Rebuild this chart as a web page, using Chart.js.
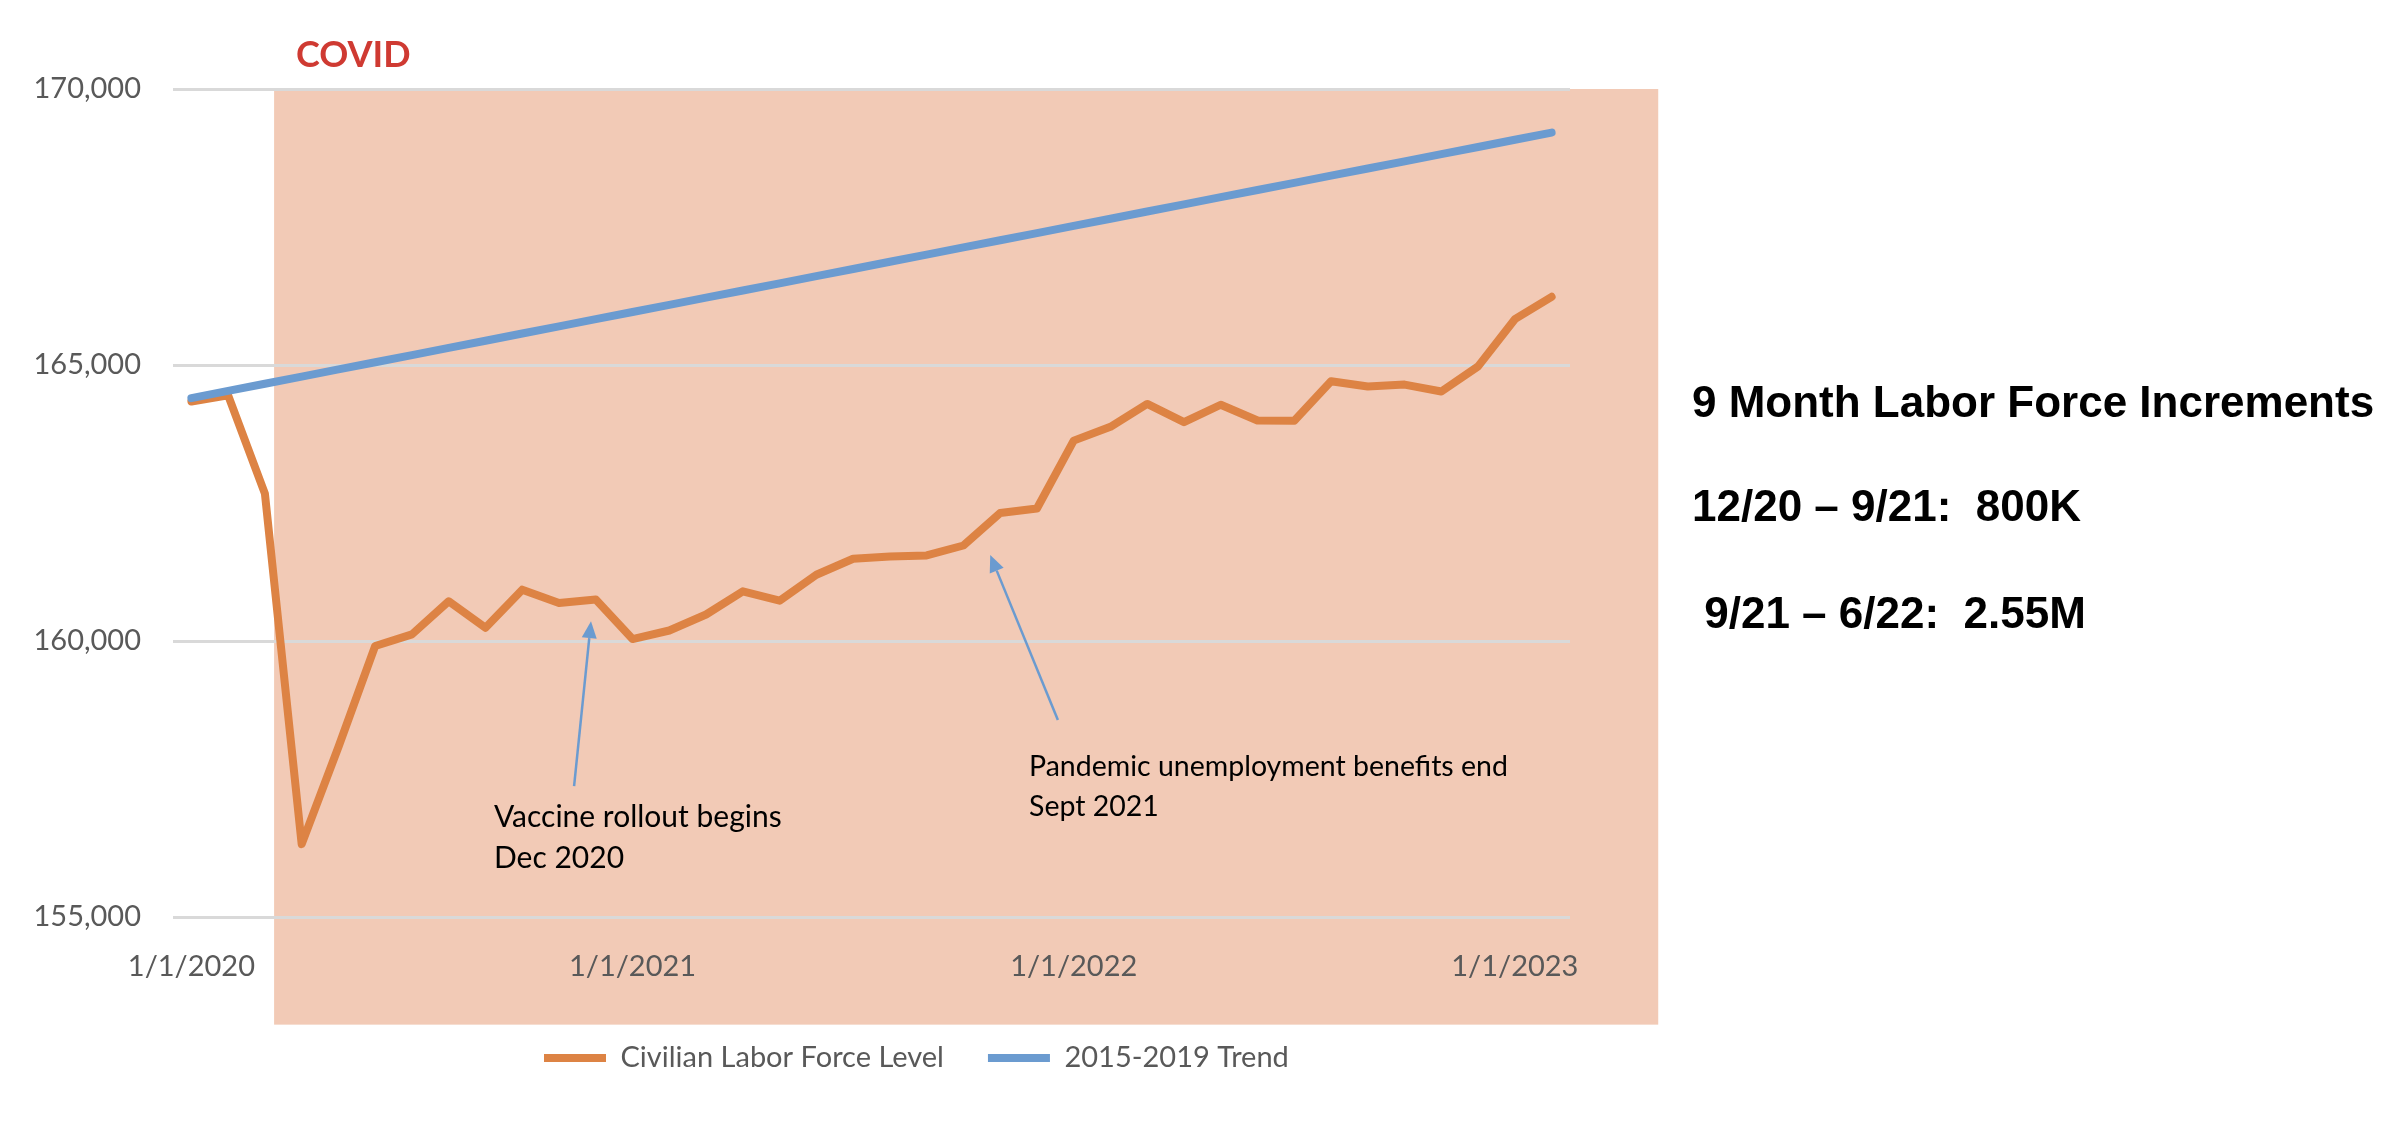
<!DOCTYPE html>
<html>
<head>
<meta charset="utf-8">
<script src="https://cdn.jsdelivr.net/npm/chart.js@4.4.1/dist/chart.umd.min.js"></script>
<style>
  html, body { margin: 0; padding: 0; background: #fff; }
  #wrap { position: relative; width: 2404px; height: 1128px; overflow: hidden; }
  #chart { position: absolute; left: 0; top: 0; }
  .note { position: absolute; white-space: pre; }
  .covid { left: 296px; top: 35px; font: bold 36px Lato, sans-serif; color: #cf3a32; line-height: 1; }
  .callout { font-family: Lato, sans-serif; color: #000; }
  .side { left: 1692px; font: bold 44px "Liberation Sans", Arial, sans-serif; color: #000; line-height: 1; }
</style>
</head>
<body>
<div id="wrap">
  <canvas id="chart" width="2404" height="1128"></canvas>
  <div class="note covid">COVID</div>
  <div class="note callout" style="left:494px; top:795px; font-size:30px; line-height:41px">Vaccine rollout begins<br>Dec 2020</div>
  <div class="note callout" style="left:1029px; top:745px; font-size:28.5px; line-height:40px">Pandemic unemployment benefits end<br>Sept 2021</div>
  <div class="note side" style="top:380px">9 Month Labor Force Increments</div>
  <div class="note side" style="top:484px">12/20 – 9/21:  800K</div>
  <div class="note side" style="top:591px"> 9/21 – 6/22:  2.55M</div>
</div>
<script>
// Monthly categories, Jan 2020 - Feb 2023
const months = [
    '1/1/2020', '2/1/2020', '3/1/2020', '4/1/2020', '5/1/2020', '6/1/2020',
    '7/1/2020', '8/1/2020', '9/1/2020', '10/1/2020', '11/1/2020', '12/1/2020',
    '1/1/2021', '2/1/2021', '3/1/2021', '4/1/2021', '5/1/2021', '6/1/2021',
    '7/1/2021', '8/1/2021', '9/1/2021', '10/1/2021', '11/1/2021', '12/1/2021',
    '1/1/2022', '2/1/2022', '3/1/2022', '4/1/2022', '5/1/2022', '6/1/2022',
    '7/1/2022', '8/1/2022', '9/1/2022', '10/1/2022', '11/1/2022', '12/1/2022',
    '1/1/2023', '2/1/2023'
];

// Civilian labor force level (thousands)
const laborForce = [
    164340, 164450, 162670, 156320, 158080, 159910, 160120, 160720, 160240, 160930, 160690, 160750,
    160035, 160190, 160480, 160900, 160730, 161200, 161490, 161530, 161550, 161730, 162320, 162400,
    163630, 163880, 164295, 163965, 164280, 163995, 163990, 164705, 164610, 164645, 164520, 164975,
    165830, 166235
];

// 2015-2019 trend line
const trend = [
    164400, 164530, 164660, 164790, 164920, 165050, 165180, 165310, 165440, 165570, 165700, 165830,
    165960, 166090, 166220, 166350, 166480, 166610, 166740, 166870, 167000, 167130, 167260, 167390,
    167520, 167650, 167780, 167910, 168040, 168170, 168300, 168430, 168560, 168690, 168820, 168950,
    169080, 169210
];

const yTicks = [155000, 160000, 165000, 170000];
const xTickLabels = ['1/1/2020', '1/1/2021', '1/1/2022', '1/1/2023'];

// COVID shaded period, in category index / value units
const covidSpan = { from: 2.25, to: 39.9, top: 170000, bottom: 153050 };

// Callout arrows: [index, value] tail -> head
const arrows = [
    { tail: [10.41, 157370], head: [10.87, 160360] },
    { tail: [23.57, 158570], head: [21.73, 161560] }
];

const orange = '#dd8344';
const blue = '#6b9bd0';
const gray = '#595959';

// Shaded COVID box behind grid
const covidShade = {
    id: 'covidShade',
    beforeDraw(chart) {
        const { ctx, scales: { x, y } } = chart;
        const left = x.getPixelForValue(covidSpan.from);
        const right = x.getPixelForValue(covidSpan.to);
        const top = y.getPixelForValue(covidSpan.top);
        const bottom = y.getPixelForValue(covidSpan.bottom);
        ctx.save();
        ctx.fillStyle = '#f2cab6';
        ctx.fillRect(left, top, right - left, bottom - top);
        ctx.restore();
    }
};

// Arrows pointing at the line
const calloutArrows = {
    id: 'calloutArrows',
    afterDatasetsDraw(chart) {
        const { ctx, scales: { x, y } } = chart;
        ctx.save();
        ctx.strokeStyle = blue;
        ctx.fillStyle = blue;
        ctx.lineWidth = 2.5;
        arrows.forEach(a => {
            const x1 = x.getPixelForValue(a.tail[0]);
            const y1 = y.getPixelForValue(a.tail[1]);
            const x2 = x.getPixelForValue(a.head[0]);
            const y2 = y.getPixelForValue(a.head[1]);
            const ang = Math.atan2(y2 - y1, x2 - x1);
            const len = 17;
            const half = 7.5;
            const bx = x2 - Math.cos(ang) * len;
            const by = y2 - Math.sin(ang) * len;
            ctx.beginPath();
            ctx.moveTo(x1, y1);
            ctx.lineTo(bx, by);
            ctx.stroke();
            ctx.beginPath();
            ctx.moveTo(x2, y2);
            ctx.lineTo(bx + Math.sin(ang) * half, by - Math.cos(ang) * half);
            ctx.lineTo(bx - Math.sin(ang) * half, by + Math.cos(ang) * half);
            ctx.closePath();
            ctx.fill();
        });
        ctx.restore();
    }
};

// Move legend row to sit under the plot like the original
const legendPlace = {
    id: 'legendPlace',
    afterLayout(chart) {
        const lg = chart.legend;
        if (!lg || !lg.lineWidths) return;
        const pad = lg.options.labels.padding;
        const rowStart = (lg.left + pad + lg.right - lg.lineWidths[0]) / 2;
        const dx = 544 - rowStart;
        const dy = (1058 - pad - 14.5) - lg.top;
        lg.left += dx;
        lg.right += dx;
        lg.top += dy;
        lg.bottom += dy;
    }
};

const ctx = document.getElementById('chart').getContext('2d');
new Chart(ctx, {
    type: 'line',
    data: {
        labels: months,
        datasets: [
            {
                label: 'Civilian Labor Force Level',
                data: laborForce,
                borderColor: orange,
                backgroundColor: orange,
                borderWidth: 8,
                pointRadius: 0,
                borderCapStyle: 'round',
                borderJoinStyle: 'round',
                order: 1
            },
            {
                label: '2015-2019 Trend',
                data: trend,
                borderColor: blue,
                backgroundColor: blue,
                borderWidth: 8,
                pointRadius: 0,
                borderCapStyle: 'round',
                borderJoinStyle: 'round',
                order: 0
            }
        ]
    },
    options: {
        responsive: false,
        animation: false,
        devicePixelRatio: 1,
        layout: { padding: { left: 33, right: 834, top: 89, bottom: 0 } },
        plugins: {
            tooltip: { enabled: false },
            legend: {
                position: 'bottom',
                labels: {
                    usePointStyle: true,
                    pointStyle: 'line',
                    pointStyleWidth: 62,
                    padding: 44,
                    color: gray,
                    font: { family: 'Lato', size: 29 },
                    sort: (a, b) => a.datasetIndex - b.datasetIndex
                }
            }
        },
        scales: {
            x: {
                offset: true,
                grid: { display: false },
                border: { display: false },
                ticks: {
                    autoSkip: false,
                    maxRotation: 0,
                    minRotation: 0,
                    padding: 24,
                    color: gray,
                    font: { family: 'Lato', size: 29 },
                    callback: function (val) {
                        const lab = this.getLabelForValue(val);
                        return xTickLabels.includes(lab) ? lab : '';
                    }
                },
                afterFit: (scale) => {
                    scale.height = 1128 - 917 - scale.chart.legend.height;
                }
            },
            y: {
                min: 155000,
                max: 170000,
                grid: { color: '#d9d9d9', lineWidth: 3, drawTicks: false },
                border: { display: false },
                ticks: {
                    padding: 32,
                    color: gray,
                    font: { family: 'Lato', size: 29 },
                    callback: (v) => v.toLocaleString('en-US')
                },
                afterBuildTicks: (scale) => {
                    scale.ticks = yTicks.map(v => ({ value: v }));
                },
                afterFit: (scale) => {
                    scale.width = 140;
                }
            }
        }
    },
    plugins: [covidShade, calloutArrows, legendPlace]
});
</script>
</body>
</html>
